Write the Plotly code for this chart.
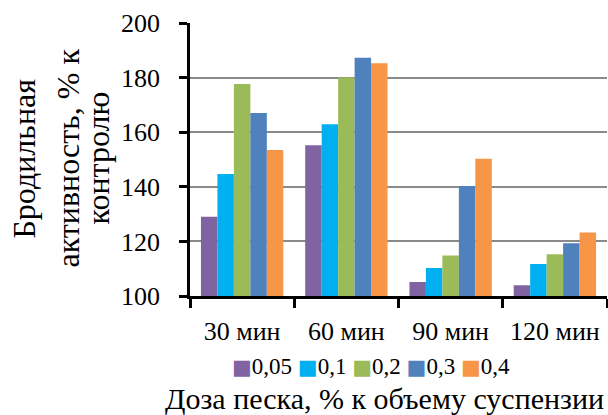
import plotly.graph_objects as go

# Fermentation activity by exposure time and sand dose
times = ["30 мин", "60 мин", "90 мин", "120 мин"]
doses = ["0,05", "0,1", "0,2", "0,3", "0,4"]
colors = ["#8064A2", "#00B0F0", "#9BBB59", "#4F81BD", "#F79646"]

dose_005 = [129.0, 155.2, 105.1, 103.9]
dose_01 = [144.7, 162.9, 110.3, 111.7]
dose_02 = [177.7, 180.0, 114.8, 115.3]
dose_03 = [167.0, 187.3, 140.3, 119.3]
dose_04 = [153.5, 185.3, 150.3, 123.3]
series = [dose_005, dose_01, dose_02, dose_03, dose_04]

y_ticks = [100, 120, 140, 160, 180, 200]

FONT = "Liberation Serif"

fig = go.Figure()
for name, vals, col in zip(doses, series, colors):
    fig.add_trace(go.Bar(
        x=times, y=vals, name=name,
        marker=dict(color=col, line=dict(width=0)),
        base=0, showlegend=False,
    ))

fig.update_layout(
    width=608, height=415,
    margin=dict(l=190, r=1, t=23, b=119),
    paper_bgcolor="white", plot_bgcolor="white",
    barmode="group", bargap=0.21, bargroupgap=0,
    font=dict(family=FONT, size=26, color="black"),
    showlegend=False,
    xaxis=dict(
        showline=True, linecolor="black", linewidth=2.5,
        ticks="outside", tickson="boundaries", ticklen=9, tickwidth=2.5, tickcolor="black",
        showgrid=False, ticklabelstandoff=10,
        tickfont=dict(family=FONT, size=26, color="black"),
    ),
    yaxis=dict(
        range=[100, 200], tickvals=y_ticks,
        showline=True, linecolor="black", linewidth=2.5,
        ticks="outside", ticklen=8, tickwidth=2.5, tickcolor="black",
        showgrid=True, gridcolor="#8a8a8a", gridwidth=1.6,
        zeroline=False, ticklabelstandoff=14,
        tickfont=dict(family=FONT, size=26, color="black"),
    ),
)

# Legend row: coloured square followed by the dose label
legend_parts = []
for name, col in zip(doses, colors):
    legend_parts.append(
        f'<span style="color:{col};font-family:DejaVu Sans;font-size:21px">\u25A0</span>{name}'
    )
legend_text = "\u00a0".join(legend_parts)
fig.add_annotation(
    text=legend_text, showarrow=False,
    xref="paper", yref="paper", x=0, y=0,
    xanchor="center", yanchor="middle",
    xshift=371 - 190, yshift=-(366 - 296),
    font=dict(family=FONT, size=23, color="black"),
)

# Y-axis title drawn as three rotated lines
ytitle_lines = ["Бродильная", "активность, % к", "контролю"]
ytitle_x = [23, 67, 97]
for text, px in zip(ytitle_lines, ytitle_x):
    fig.add_annotation(
        text=text, textangle=-90, showarrow=False,
        xref="paper", yref="paper", x=0, y=0.5,
        xanchor="center", yanchor="middle",
        xshift=px - 190, yshift=1,
        font=dict(family=FONT, size=32, color="black"),
    )

# X-axis title below the legend
fig.add_annotation(
    text="Доза песка, % к объему суспензии", showarrow=False,
    xref="paper", yref="paper", x=0, y=0,
    xanchor="center", yanchor="middle",
    xshift=384 - 190, yshift=-(398 - 296),
    font=dict(family=FONT, size=30, color="black"),
)

fig.write_html("out.html")
